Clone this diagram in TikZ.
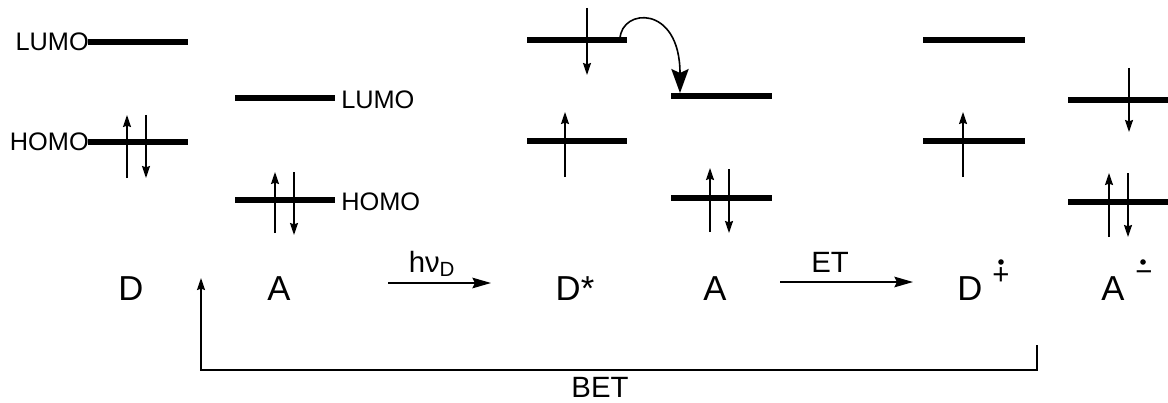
\documentclass[tikz,border=0pt]{standalone}
\usepackage{fontspec}
\setmainfont{Liberation Sans}
\usetikzlibrary{arrows.meta}

\begin{document}
\begin{tikzpicture}[
  x=0.75pt, y=-0.75pt,
  >=Stealth,
  every node/.style={inner sep=0pt},
  level/.style={line width=4.5pt},
  spin/.style={-{Stealth[length=9pt,width=6pt,inset=1pt]},line width=1.1pt},
  orb/.style={font=\fontsize{19}{22}\selectfont},
  species/.style={font=\fontsize{26}{30}\selectfont,anchor=base},
  step arrow/.style={-{Stealth[length=14pt,width=8pt,inset=2pt]},line width=1pt},
  steplabel/.style={font=\fontsize{22}{26}\selectfont}
]
  \useasboundingbox (0,0) rectangle (1168,403);
  % donor D
  \draw[level] (88,42) -- (188,42);
  \draw[level] (88,142) -- (188,142);
  \node[orb,anchor=east] (dlumo) at (89,42) {LUMO};
  \node[orb,anchor=east] (dhomo) at (89,142) {HOMO};
  \draw[spin] (127,178) -- (127,115);
  \draw[spin] (146,115) -- (146,178);
  % acceptor A
  \draw[level] (235,98) -- (335,98);
  \draw[level] (235,200) -- (335,200);
  \node[orb,anchor=west] (alumo) at (341,100) {LUMO};
  \node[orb,anchor=west] (ahomo) at (341,202) {HOMO};
  \draw[spin] (275,233) -- (275,172);
  \draw[spin] (294,172) -- (294,235);
  % excited donor D*
  \draw[level] (527,40) -- (627,40);
  \draw[level] (527,141) -- (627,141);
  \draw[spin] (587,8) -- (587,75);
  \draw[spin] (565,177) -- (565,112);
  % acceptor next to D*
  \draw[level] (671,96) -- (772,96);
  \draw[level] (671,198) -- (772,198);
  \draw[spin] (710,232) -- (710,168);
  \draw[spin] (729,169) -- (729,233);
  % electron transfer
  \coordinate (etfrom) at (620,39);
  \coordinate (etto) at (680,93);
  \draw[-{Stealth[length=18pt,width=13pt,inset=3pt]},line width=1.2pt]
    (etfrom) .. controls (621,8) and (680,4) .. (etto);
  % radical cation D+
  \draw[level] (923,40) -- (1025,40);
  \draw[level] (923,141) -- (1025,141);
  \draw[spin] (963,177) -- (963,112);
  % radical anion A-
  \draw[level] (1068,100) -- (1168,100);
  \draw[level] (1068,202) -- (1168,202);
  \draw[spin] (1129,68) -- (1129,132);
  \draw[spin] (1109,237) -- (1109,173);
  \draw[spin] (1128,173) -- (1128,237);
  % species labels
  \node[species] (d) at (131,300) {D};
  \node[species] (a) at (279,300) {A};
  \node[species] (dstar) at (575,300) {D*};
  \node[species] (a2) at (715,300) {A};
  \node[species] (dcat) at (970,300) {D};
  \node[species] (aan) at (1113,300) {A};
  \node[font=\fontsize{22}{24}\selectfont] (plus) at (1001,276) {+};
  \fill (1001,262) circle (2.8);
  \node[font=\fontsize{22}{24}\selectfont,anchor=west] (minus) at (1135,276) {−};
  \fill (1143,262) circle (2.8);
  % reaction arrows
  \coordinate (hvfrom) at (388,283);
  \coordinate (hvto) at (491,283);
  \draw[step arrow] (hvfrom) -- (hvto);
  \node[steplabel] (hv) at (432,264) {hν\textsubscript{D}};
  \coordinate (etstart) at (780,282);
  \coordinate (etend) at (913,282);
  \draw[step arrow] (etstart) -- (etend);
  \node[steplabel] (et) at (830,262) {ET};
  % back electron transfer
  \coordinate (betfrom) at (1037,345);
  \coordinate (betto) at (201,278);
  \draw[spin] (betfrom) -- (1037,370) -| (betto);
  \node[steplabel,anchor=base] (bet) at (600,397) {BET};
\end{tikzpicture}
\end{document}
